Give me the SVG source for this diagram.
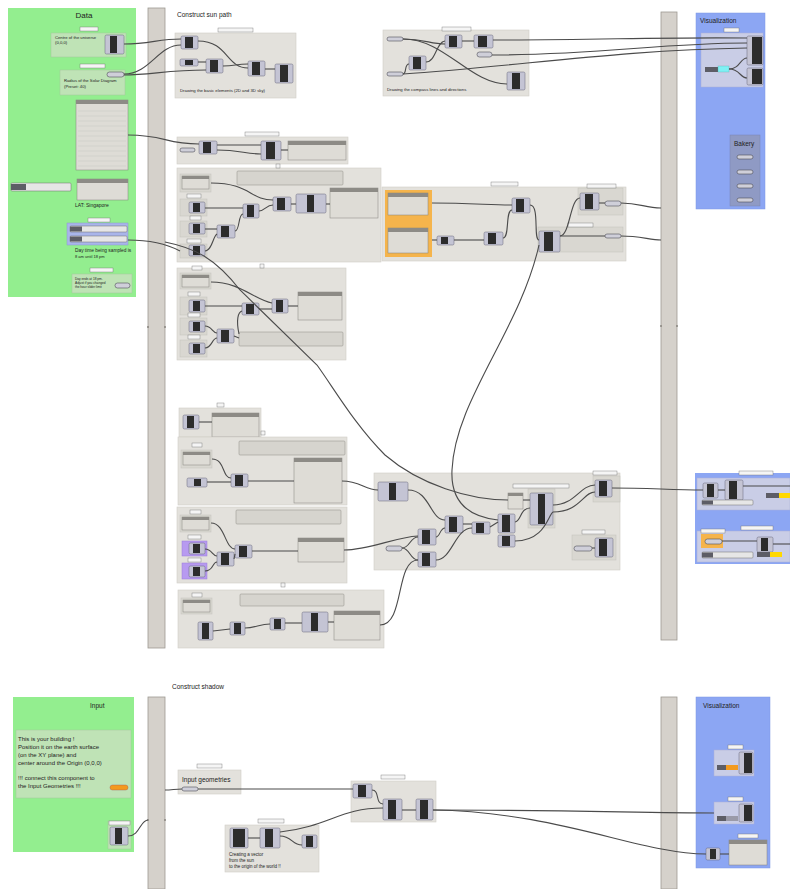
<svg xmlns="http://www.w3.org/2000/svg" width="790" height="889" viewBox="0 0 790 889">
<style>
.t{font-family:"Liberation Sans",Arial,sans-serif;fill:#222}
.grp{fill:#e3e1dc;stroke:#cfcdc7;stroke-width:0.6}
.sub{fill:#d9d7d1;stroke:#c3c1bb;stroke-width:0.5}
.gsub{fill:#bfe3b6;stroke:#a3c69b;stroke-width:0.5}
.bar{fill:#d5d1cb;stroke:#9d9992;stroke-width:0.8}
.cmp{fill:#c4c4d4;stroke:#66667a;stroke-width:0.5}
.core{fill:#2c2c2c}
.pill{fill:#cfcfd9;stroke:#4e4e58;stroke-width:0.6}
.tag{fill:#f5f5f5;stroke:#707070;stroke-width:0.4}
.pnl{fill:#dedcd6;stroke:#85837e;stroke-width:0.5}
.ph{fill:#8d8b86}
.expr{fill:#d6d4ce;stroke:#8e8c87;stroke-width:0.5}
.sl{fill:#e6e6e6;stroke:#6c6c6c;stroke-width:0.5}
.sll{fill:#5d5d66}
.wire{fill:none;stroke:#4b4b4b;stroke-width:1.1}
</style>

<!-- ============ Data panel ============ -->
<g id="data">
  <rect x="8" y="8" width="128" height="289" fill="#93ee8f"/>
  <text class="t" x="84" y="18" font-size="8" text-anchor="middle">Data</text>
  <rect class="tag" x="80" y="27" width="18" height="4"/>
  <rect class="gsub" x="51" y="33" width="75" height="24"/>
  <text class="t" x="55" y="39" font-size="4.2">Centre of the universe</text>
  <text class="t" x="55" y="44" font-size="4.2">(0,0,0)</text>
  <rect class="cmp" x="105" y="35" width="19" height="19" rx="1.5"/>
  <rect class="core" x="110" y="36" width="7" height="17"/>
  <rect class="tag" x="80" y="64" width="25" height="4"/>
  <rect class="gsub" x="60" y="70" width="65" height="25"/>
  <rect class="pill" x="107" y="72" width="17" height="5" rx="2.5"/>
  <text class="t" x="64" y="82" font-size="4.2">Radius of the Solar Diagram</text>
  <text class="t" x="64" y="88" font-size="4.2">(Preset: 40)</text>
  <rect class="pnl" x="76" y="100" width="52" height="70"/>
  <rect class="ph" x="76" y="100" width="52" height="4"/>
  <g stroke="#c2c0bb" stroke-width="0.4">
    <line x1="78" y1="111" x2="126" y2="111"/><line x1="78" y1="116" x2="126" y2="116"/>
    <line x1="78" y1="121" x2="126" y2="121"/><line x1="78" y1="126" x2="126" y2="126"/>
    <line x1="78" y1="131" x2="126" y2="131"/><line x1="78" y1="136" x2="126" y2="136"/>
    <line x1="78" y1="141" x2="126" y2="141"/><line x1="78" y1="146" x2="126" y2="146"/>
    <line x1="78" y1="151" x2="126" y2="151"/><line x1="78" y1="156" x2="126" y2="156"/>
    <line x1="78" y1="161" x2="126" y2="161"/><line x1="78" y1="166" x2="126" y2="166"/>
  </g>
  <rect class="sl" x="11" y="183" width="60" height="8" rx="1"/>
  <rect class="sll" x="11" y="184" width="15" height="6"/>
  <rect class="pnl" x="77" y="179" width="51" height="21"/>
  <rect class="ph" x="77" y="179" width="51" height="4"/>
  <text class="t" x="75" y="207" font-size="5">LAT: Singapore</text>
  <rect class="tag" x="88" y="218" width="22" height="4"/>
  <rect x="67" y="223" width="61" height="22" fill="#a9b5ea" stroke="#8b97d0" stroke-width="0.5"/>
  <rect class="sl" x="70" y="226" width="57" height="6" rx="1"/>
  <rect class="sll" x="70" y="226.5" width="12" height="5"/>
  <rect class="sl" x="70" y="236" width="57" height="6" rx="1"/>
  <rect class="sll" x="70" y="236.5" width="12" height="5"/>
  <text class="t" x="75" y="252" font-size="4.8">Day time being sampled is</text>
  <text class="t" x="75" y="258" font-size="4">8 am until 18 pm</text>
  <rect class="tag" x="90" y="268" width="23" height="4"/>
  <rect class="gsub" x="72" y="274" width="60" height="19"/>
  <text class="t" x="75" y="280" font-size="3.2">Day ends at 18 pm.</text>
  <text class="t" x="75" y="284" font-size="3.2">Adjust if you changed</text>
  <text class="t" x="75" y="288" font-size="3.2">the hour slider limit</text>
  <rect class="pill" x="115" y="283" width="15" height="5" rx="2.5"/>
</g>

<!-- ============ relay bars ============ -->
<g id="bars">
  <rect class="bar" x="148" y="8" width="17" height="640"/>
  <rect class="bar" x="661" y="12" width="16" height="628"/>
  <rect class="bar" x="148" y="697" width="17" height="192"/>
  <rect class="bar" x="661" y="697" width="16" height="192"/>
  <g fill="#8a8680">
    <circle cx="148" cy="327" r="1"/><circle cx="165" cy="327" r="1"/>
    <circle cx="661" cy="326" r="1"/><circle cx="677" cy="326" r="1"/>
    <circle cx="148" cy="820" r="1"/><circle cx="165" cy="820" r="1"/>
  </g>
</g>

<text class="t" x="177" y="17" font-size="6.5">Construct sun path</text>
<text class="t" x="172" y="689" font-size="6.5">Construct  shadow</text>

<!-- ============ basic elements ============ -->
<g id="basic-elements">
  <rect class="grp" x="175" y="33" width="121" height="65"/>
  <rect class="tag" x="218" y="28" width="35" height="4"/>
  <rect class="cmp" x="181" y="36" width="17" height="13" rx="1.5"/><rect class="core" x="185" y="37" width="8" height="11"/>
  <rect class="cmp" x="180" y="59" width="18" height="7" rx="1.5"/><rect class="core" x="185" y="60" width="8" height="5"/>
  <rect class="cmp" x="206" y="59" width="17" height="14" rx="1.5"/><rect class="core" x="210" y="60" width="8" height="12"/>
  <rect class="cmp" x="248" y="61" width="17" height="15" rx="1.5"/><rect class="core" x="252" y="62" width="8" height="13"/>
  <rect class="cmp" x="275" y="64" width="18" height="19" rx="1.5"/><rect class="core" x="280" y="65" width="8" height="17"/>
  <text class="t" x="180" y="92" font-size="4.3">Drawing the basic elements (2D and 3D sky)</text>
</g>

<!-- ============ compass ============ -->
<g id="compass">
  <rect class="grp" x="383" y="30" width="146" height="66"/>
  <rect class="tag" x="442" y="27" width="29" height="4"/>
  <rect class="pill" x="387" y="37" width="16" height="4" rx="2"/>
  <rect class="pill" x="387" y="72" width="16" height="4" rx="2"/>
  <rect class="cmp" x="445" y="35" width="17" height="13" rx="1.5"/><rect class="core" x="449" y="36" width="8" height="11"/>
  <rect class="cmp" x="474" y="35" width="19" height="13" rx="1.5"/><rect class="core" x="478" y="36" width="9" height="11"/>
  <rect class="pill" x="477" y="52" width="15" height="5" rx="2.5"/>
  <rect class="cmp" x="409" y="56" width="17" height="14" rx="1.5"/><rect class="core" x="413" y="57" width="8" height="12"/>
  <rect class="cmp" x="507" y="72" width="18" height="18" rx="1.5"/><rect class="core" x="512" y="73" width="8" height="16"/>
  <text class="t" x="387" y="91" font-size="4.3">Drawing the compass lines and directions</text>
</g>

<!-- ============ visualization (sun path) ============ -->
<g id="visualization-top">
  <rect x="696" y="13" width="69" height="196" fill="#8ca6f3" stroke="#7d97e4" stroke-width="0.5"/>
  <text class="t" x="700" y="23" font-size="6.5">Visualization</text>
  <rect class="tag" x="724" y="28" width="15" height="4"/>
  <rect x="701" y="33" width="62" height="54" fill="#c9cde6" stroke="#aab0d6" stroke-width="0.5"/>
  <rect class="cmp" x="747" y="36" width="16" height="29" rx="1.5"/><rect class="core" x="752" y="37" width="10" height="27"/>
  <rect class="cmp" x="747" y="68" width="16" height="17" rx="1.5"/><rect class="core" x="752" y="69" width="10" height="15"/>
  <rect class="sll" x="705" y="67" width="13" height="5"/>
  <rect x="718" y="66" width="11" height="6" fill="#7ff0f4" stroke="#5aa" stroke-width="0.3"/>
</g>
<g id="bakery">
  <rect x="730" y="135" width="30" height="71" fill="#8f9ac4" stroke="#7a85b2" stroke-width="0.5"/>
  <text class="t" x="734" y="146" font-size="6.5">Bakery</text>
  <rect class="pill" x="737" y="155" width="16" height="4" rx="2"/>
  <rect class="pill" x="737" y="170" width="16" height="4" rx="2"/>
  <rect class="pill" x="737" y="184" width="16" height="4" rx="2"/>
  <rect class="pill" x="737" y="198" width="16" height="4" rx="2"/>
</g>

<!-- ============ month by index ============ -->
<g id="month-index">
  <rect class="grp" x="177" y="137" width="171" height="27"/>
  <rect class="tag" x="245" y="132" width="34" height="4"/>
  <rect class="pill" x="180" y="148" width="15" height="4" rx="2"/>
  <rect class="cmp" x="199" y="141" width="18" height="13" rx="1.5" fill="#b3b3cf"/><rect class="core" x="203" y="142" width="8" height="11"/>
  <rect class="cmp" x="261" y="141" width="20" height="19" rx="1.5"/><rect class="core" x="266" y="142" width="9" height="17"/>
  <rect class="pnl" x="288" y="141" width="58" height="19"/><rect class="ph" x="288" y="141" width="58" height="4"/>
</g>

<!-- ============ sun position (altitude) ============ -->
<g id="sun-altitude">
  <rect class="grp" x="177" y="168" width="204" height="94"/>
  <rect class="tag" x="276" y="164" width="4" height="4"/>
  <rect class="sub" x="180" y="174" width="31" height="18"/><rect class="pnl" x="182" y="176" width="27" height="13"/><rect class="ph" x="182" y="176" width="27" height="3"/>
  <rect class="expr" x="237" y="171" width="106" height="14" rx="1"/>
  <rect class="tag" x="187" y="194" width="14" height="4"/>
  <rect class="sub" x="180" y="199" width="27" height="17"/>
  <rect class="cmp" x="189" y="202" width="16" height="11" rx="1.5"/><rect class="core" x="193" y="203" width="7" height="9"/>
  <rect class="tag" x="190" y="216" width="11" height="4"/>
  <rect class="sub" x="180" y="221" width="27" height="16"/>
  <rect class="cmp" x="189" y="223" width="16" height="11" rx="1.5"/><rect class="core" x="193" y="224" width="7" height="9"/>
  <rect class="tag" x="187" y="239" width="14" height="4"/>
  <rect class="sub" x="180" y="244" width="27" height="14"/>
  <rect class="cmp" x="189" y="245" width="16" height="11" rx="1.5"/><rect class="core" x="193" y="246" width="7" height="9"/>
  <rect class="cmp" x="243" y="204" width="16" height="14" rx="1.5"/><rect class="core" x="247" y="205" width="7" height="12"/>
  <rect class="cmp" x="217" y="225" width="18" height="13" rx="1.5"/><rect class="core" x="221" y="226" width="8" height="11"/>
  <rect class="cmp" x="273" y="197" width="18" height="14" rx="1.5"/><rect class="core" x="277" y="198" width="8" height="12"/>
  <rect class="cmp" x="296" y="194" width="30" height="19" rx="1.5" fill="#d8d8de"/><rect class="core" x="307" y="195" width="7" height="17"/>
  <rect class="pnl" x="330" y="188" width="48" height="30"/><rect class="ph" x="330" y="188" width="48" height="4"/>
</g>

<!-- ============ sun position (azimuth) ============ -->
<g id="sun-azimuth">
  <rect class="grp" x="177" y="268" width="169" height="92"/>
  <rect class="tag" x="260" y="264" width="4" height="4"/>
  <rect class="tag" x="192" y="266" width="10" height="4"/>
  <rect class="sub" x="180" y="273" width="31" height="16"/><rect class="pnl" x="182" y="275" width="27" height="12"/><rect class="ph" x="182" y="275" width="27" height="3"/>
  <rect class="tag" x="188" y="292" width="12" height="4"/>
  <rect class="sub" x="180" y="297" width="27" height="18"/>
  <rect class="cmp" x="189" y="300" width="16" height="12" rx="1.5"/><rect class="core" x="193" y="301" width="7" height="10"/>
  <rect class="tag" x="188" y="313" width="12" height="4"/>
  <rect class="sub" x="180" y="318" width="27" height="17"/>
  <rect class="cmp" x="189" y="321" width="16" height="11" rx="1.5"/><rect class="core" x="193" y="322" width="7" height="9"/>
  <rect class="tag" x="188" y="335" width="12" height="4"/>
  <rect class="sub" x="180" y="340" width="27" height="17"/>
  <rect class="cmp" x="189" y="343" width="16" height="11" rx="1.5"/><rect class="core" x="193" y="344" width="7" height="9"/>
  <rect class="cmp" x="242" y="303" width="17" height="12" rx="1.5"/><rect class="core" x="246" y="304" width="8" height="10"/>
  <rect class="cmp" x="272" y="299" width="16" height="14" rx="1.5"/><rect class="core" x="276" y="300" width="7" height="12"/>
  <rect class="cmp" x="217" y="329" width="17" height="14" rx="1.5"/><rect class="core" x="221" y="330" width="8" height="12"/>
  <rect class="pnl" x="298" y="292" width="44" height="28"/><rect class="ph" x="298" y="292" width="44" height="4"/>
  <rect class="expr" x="239" y="332" width="104" height="14" rx="1"/>
</g>

<!-- ============ orange: sun vectors ============ -->
<g id="sun-vectors">
  <rect class="grp" x="382" y="187" width="244" height="74"/>
  <rect class="tag" x="491" y="182" width="27" height="4"/>
  <rect x="385" y="190" width="47" height="67" fill="#f5b44c"/>
  <rect class="pnl" x="388" y="193" width="40" height="22"/><rect class="ph" x="388" y="193" width="40" height="4"/>
  <rect class="pnl" x="388" y="228" width="40" height="25"/><rect class="ph" x="388" y="228" width="40" height="4"/>
  <rect class="cmp" x="437" y="236" width="17" height="9" rx="1.5"/><rect class="core" x="441" y="237" width="7" height="7"/>
  <rect class="cmp" x="484" y="232" width="19" height="13" rx="1.5"/><rect class="core" x="488" y="233" width="8" height="11"/>
  <rect class="cmp" x="512" y="198" width="18" height="15" rx="1.5"/><rect class="core" x="516" y="199" width="8" height="13"/>
  <rect class="sub" x="578" y="188" width="45" height="27"/>
  <rect class="tag" x="587" y="184" width="29" height="4"/>
  <rect class="cmp" x="580" y="193" width="19" height="17" rx="1.5"/><rect class="core" x="585" y="194" width="8" height="15"/>
  <rect class="pill" x="605" y="201" width="16" height="5" rx="2.5"/>
  <rect class="sub" x="538" y="227" width="85" height="25"/>
  <rect class="tag" x="568" y="223" width="25" height="4"/>
  <rect class="cmp" x="539" y="231" width="21" height="21" rx="1.5"/><rect class="core" x="544" y="232" width="9" height="19"/>
  <rect class="pill" x="605" y="234" width="16" height="4" rx="2"/>
</g>

<!-- ============ lower sun-path groups ============ -->
<g id="day-list">
  <rect class="grp" x="179" y="408" width="82" height="29"/>
  <rect class="tag" x="217" y="403" width="7" height="4"/>
  <rect class="cmp" x="183" y="415" width="16" height="14" rx="1.5"/><rect class="core" x="187" y="416" width="7" height="12"/>
  <rect class="pnl" x="212" y="413" width="47" height="24"/><rect class="ph" x="212" y="413" width="47" height="4"/>
  <rect class="tag" x="261" y="431" width="4" height="4"/>
</g>
<g id="sun-x">
  <rect class="grp" x="178" y="437" width="169" height="68"/>
  <rect class="tag" x="192" y="443" width="10" height="4"/>
  <rect class="sub" x="181" y="450" width="31" height="18"/><rect class="pnl" x="183" y="452" width="27" height="13"/><rect class="ph" x="183" y="452" width="27" height="3"/>
  <rect class="expr" x="239" y="441" width="106" height="14" rx="1"/>
  <rect class="cmp" x="187" y="478" width="20" height="9" rx="1.5"/><rect class="core" x="194" y="479" width="7" height="7"/>
  <rect class="cmp" x="231" y="474" width="17" height="13" rx="1.5"/><rect class="core" x="235" y="475" width="8" height="11"/>
  <rect class="pnl" x="294" y="458" width="48" height="45"/><rect class="ph" x="294" y="458" width="48" height="4"/>
</g>
<g id="sun-y">
  <rect class="grp" x="177" y="507" width="170" height="76"/>
  <rect class="tag" x="190" y="510" width="11" height="4"/>
  <rect class="sub" x="180" y="515" width="31" height="17"/><rect class="pnl" x="182" y="517" width="27" height="13"/><rect class="ph" x="182" y="517" width="27" height="3"/>
  <rect class="expr" x="236" y="510" width="105" height="14" rx="1"/>
  <rect class="tag" x="188" y="535" width="13" height="4"/>
  <rect x="182" y="541" width="25" height="15" fill="#b79af0" stroke="#9a7ed8" stroke-width="0.5"/>
  <rect class="cmp" x="189" y="543" width="16" height="11" rx="1.5"/><rect class="core" x="193" y="544" width="7" height="9"/>
  <rect class="tag" x="188" y="558" width="13" height="4"/>
  <rect x="182" y="563" width="25" height="16" fill="#b79af0" stroke="#9a7ed8" stroke-width="0.5"/>
  <rect class="cmp" x="189" y="566" width="16" height="11" rx="1.5"/><rect class="core" x="193" y="567" width="7" height="9"/>
  <rect class="cmp" x="217" y="552" width="17" height="14" rx="1.5"/><rect class="core" x="221" y="553" width="8" height="12"/>
  <rect class="cmp" x="235" y="545" width="17" height="13" rx="1.5"/><rect class="core" x="239" y="546" width="8" height="11"/>
  <rect class="pnl" x="298" y="538" width="46" height="24"/><rect class="ph" x="298" y="538" width="46" height="4"/>
  <rect class="tag" x="281" y="583" width="4" height="4"/>
</g>
<g id="sun-z">
  <rect class="grp" x="178" y="590" width="206" height="58"/>
  <rect class="tag" x="192" y="593" width="10" height="4"/>
  <rect class="sub" x="181" y="598" width="31" height="16"/><rect class="pnl" x="183" y="600" width="27" height="12"/><rect class="ph" x="183" y="600" width="27" height="3"/>
  <rect class="expr" x="240" y="594" width="104" height="12" rx="1"/>
  <rect class="cmp" x="198" y="622" width="15" height="18" rx="1.5"/><rect class="core" x="202" y="623" width="7" height="16"/>
  <rect class="cmp" x="230" y="622" width="15" height="13" rx="1.5"/><rect class="core" x="234" y="623" width="7" height="11"/>
  <rect class="cmp" x="270" y="618" width="15" height="12" rx="1.5"/><rect class="core" x="274" y="619" width="7" height="10"/>
  <rect class="cmp" x="302" y="612" width="26" height="20" rx="1.5" fill="#d8d8de"/><rect class="core" x="311" y="613" width="7" height="18"/>
  <rect class="pnl" x="334" y="611" width="46" height="29"/><rect class="ph" x="334" y="611" width="46" height="4"/>
</g>

<!-- ============ sun points ============ -->
<g id="sun-points">
  <rect class="grp" x="374" y="473" width="246" height="97"/>
  <rect class="cmp" x="378" y="482" width="30" height="19" rx="1.5" fill="#d8d8de"/><rect class="core" x="389" y="483" width="7" height="17"/>
  <rect class="cmp" x="445" y="516" width="18" height="17" rx="1.5"/><rect class="core" x="449" y="517" width="8" height="15"/>
  <rect class="cmp" x="472" y="522" width="18" height="12" rx="1.5"/><rect class="core" x="476" y="523" width="8" height="10"/>
  <rect class="cmp" x="498" y="514" width="17" height="19" rx="1.5"/><rect class="core" x="502" y="515" width="8" height="17"/>
  <rect class="cmp" x="498" y="535" width="17" height="12" rx="1.5"/><rect class="core" x="502" y="536" width="8" height="10"/>
  <rect class="cmp" x="418" y="529" width="18" height="16" rx="1.5"/><rect class="core" x="422" y="530" width="8" height="14"/>
  <rect class="cmp" x="418" y="552" width="18" height="15" rx="1.5"/><rect class="core" x="422" y="553" width="8" height="13"/>
  <rect class="pill" x="386" y="546" width="16" height="5" rx="2.5"/>
  <rect class="pnl" x="508" y="493" width="15" height="16"/><rect class="ph" x="508" y="493" width="15" height="3"/>
  <rect class="sub" x="528" y="489" width="27" height="39"/>
  <rect class="tag" x="513" y="484" width="56" height="4"/>
  <rect class="cmp" x="530" y="493" width="23" height="32" rx="1.5" fill="#d0d0dc"/><rect class="core" x="538" y="494" width="7" height="30"/>
  <rect class="sub" x="593" y="476" width="27" height="26"/>
  <rect class="tag" x="593" y="471" width="24" height="4"/>
  <rect class="cmp" x="595" y="480" width="17" height="17" rx="1.5"/><rect class="core" x="599" y="481" width="8" height="15"/>
  <rect class="sub" x="572" y="535" width="44" height="25"/>
  <rect class="tag" x="582" y="530" width="23" height="4"/>
  <rect class="pill" x="574" y="546" width="18" height="5" rx="2.5"/>
  <rect class="cmp" x="595" y="538" width="18" height="19" rx="1.5"/><rect class="core" x="599" y="539" width="8" height="17"/>
</g>

<!-- ============ visualization (sun positions) ============ -->
<g id="visualization-sun">
  <rect x="695" y="473" width="95" height="91" fill="#8ca6f3"/>
  <rect class="tag" x="739" y="471" width="34" height="4"/>
  <rect x="697" y="478" width="93" height="32" fill="#c9cde6" stroke="#aab0d6" stroke-width="0.5"/>
  <rect class="cmp" x="703" y="483" width="15" height="15" rx="1.5" fill="#a9a9b4"/><rect class="core" x="707" y="484" width="7" height="13"/>
  <rect class="cmp" x="725" y="480" width="18" height="20" rx="1.5"/><rect class="core" x="729" y="481" width="8" height="18"/>
  <rect class="sl" x="702" y="500" width="51" height="5" rx="1"/><rect class="sll" x="702" y="500.5" width="11" height="4"/>
  <rect class="sll" x="766" y="493" width="13" height="5"/><rect x="779" y="493" width="11" height="5" fill="#ffd800"/>
  <rect class="tag" x="741" y="526" width="32" height="4"/>
  <rect x="697" y="531" width="93" height="31" fill="#c9cde6" stroke="#aab0d6" stroke-width="0.5"/>
  <rect class="tag" x="701" y="529" width="24" height="4"/>
  <rect x="701" y="534" width="22" height="14" fill="#f5b44c"/>
  <rect class="pill" x="705" y="539" width="17" height="5" rx="2.5"/>
  <rect class="cmp" x="757" y="537" width="16" height="15" rx="1.5"/><rect class="core" x="761" y="538" width="7" height="13"/>
  <rect class="sl" x="702" y="552" width="51" height="6" rx="1"/><rect class="sll" x="702" y="552.5" width="11" height="5"/>
  <rect class="sll" x="757" y="552" width="13" height="5"/><rect x="770" y="552" width="12" height="5" fill="#ffd800"/>
</g>

<!-- ============ Input panel ============ -->
<g id="input">
  <rect x="13" y="697" width="121" height="155" fill="#93ee8f"/>
  <text class="t" x="90" y="708" font-size="6.5">Input</text>
  <rect class="gsub" x="16" y="730" width="115" height="68"/>
  <text class="t" x="18" y="741" font-size="6">This is your building !</text>
  <text class="t" x="18" y="749" font-size="6">Position it on the earth surface</text>
  <text class="t" x="18" y="757" font-size="6">(on the XY plane) and</text>
  <text class="t" x="18" y="765" font-size="6">center around the Origin (0,0,0)</text>
  <text class="t" x="18" y="780" font-size="6">!!! connect this component to</text>
  <text class="t" x="18" y="788" font-size="6">the Input Geometries !!!</text>
  <rect x="110" y="785" width="18" height="5" rx="2.5" fill="#f39a1e" stroke="#a55" stroke-width="0.4"/>
  <rect class="gsub" x="108" y="821" width="23" height="28"/>
  <rect class="tag" x="109" y="821" width="21" height="4"/>
  <rect class="cmp" x="110" y="827" width="18" height="18" rx="1.5"/><rect class="core" x="115" y="828" width="7" height="16"/>
</g>

<!-- ============ shadow construction ============ -->
<g id="input-geometries">
  <rect class="grp" x="178" y="770" width="63" height="24"/>
  <rect class="tag" x="197" y="764" width="25" height="4"/>
  <text class="t" x="182" y="782" font-size="6.5">Input geometries</text>
  <rect class="pill" x="182" y="787" width="16" height="4" rx="2"/>
</g>
<g id="shadow-casting">
  <rect class="grp" x="351" y="781" width="85" height="41"/>
  <rect class="tag" x="381" y="775" width="24" height="4"/>
  <rect class="cmp" x="353" y="784" width="19" height="14" rx="1.5"/><rect class="core" x="358" y="785" width="8" height="12"/>
  <rect class="cmp" x="383" y="799" width="19" height="21" rx="1.5"/><rect class="core" x="388" y="800" width="8" height="19"/>
  <rect class="cmp" x="416" y="799" width="17" height="21" rx="1.5"/><rect class="core" x="420" y="800" width="8" height="19"/>
</g>
<g id="sunlight-direction">
  <rect class="grp" x="225" y="825" width="94" height="47"/>
  <rect class="tag" x="258" y="819" width="26" height="4"/>
  <rect class="cmp" x="230" y="828" width="18" height="20" rx="1.5"/><rect class="core" x="233" y="829" width="12" height="18"/>
  <rect class="cmp" x="260" y="828" width="20" height="20" rx="1.5"/><rect class="core" x="265" y="829" width="8" height="18"/>
  <rect class="cmp" x="302" y="835" width="15" height="13" rx="1.5"/><rect class="core" x="306" y="836" width="7" height="11"/>
  <text class="t" x="229" y="856" font-size="4.5">Creating a vector</text>
  <text class="t" x="229" y="862" font-size="4.5">from the sun</text>
  <text class="t" x="229" y="868" font-size="4.5">to the origin of the world !!</text>
</g>

<!-- ============ visualization (shadow) ============ -->
<g id="visualization-shadow">
  <rect x="696" y="697" width="74" height="171" fill="#8ca6f3" stroke="#7d97e4" stroke-width="0.5"/>
  <text class="t" x="703" y="708" font-size="6.5">Visualization</text>
  <rect class="tag" x="728" y="745" width="15" height="4"/>
  <rect x="714" y="750" width="40" height="26" fill="#c9cde6" stroke="#aab0d6" stroke-width="0.5"/>
  <rect class="cmp" x="739" y="752" width="14" height="22" rx="1.5"/><rect class="core" x="744" y="753" width="8" height="20"/>
  <rect class="sll" x="717" y="765" width="9" height="5"/><rect x="726" y="765" width="12" height="5" fill="#f39a1e"/>
  <rect class="tag" x="728" y="797" width="15" height="4"/>
  <rect x="714" y="802" width="40" height="22" fill="#c9cde6" stroke="#aab0d6" stroke-width="0.5"/>
  <rect class="cmp" x="739" y="804" width="14" height="18" rx="1.5"/><rect class="core" x="744" y="805" width="8" height="16"/>
  <rect class="sll" x="717" y="816" width="9" height="5"/><rect x="726" y="816" width="12" height="5" fill="#9a9aa8"/>
  <rect class="tag" x="738" y="834" width="20" height="4"/>
  <rect class="cmp" x="706" y="848" width="14" height="12" rx="1.5"/><rect class="core" x="710" y="849" width="6" height="10"/>
  <rect class="pnl" x="729" y="840" width="38" height="25"/><rect class="ph" x="729" y="840" width="38" height="4"/>
</g>

<!-- ============ wires ============ -->
<g id="wires" class="wire">
  <path d="M124,44 C150,44 158,39 181,39"/>
  <path d="M124,74 C150,74 158,45 181,45"/>
  <path d="M124,75 C150,75 168,70 206,70"/>
  <path d="M198,41 C228,41 226,68 248,68"/>
  <path d="M198,62 L206,62"/>
  <path d="M223,66 C235,66 236,64 248,64"/>
  <path d="M265,69 L275,69"/>
  <path d="M403,39 C425,39 430,44 445,44"/>
  <path d="M403,39 C445,39 470,84 507,84"/>
  <path d="M403,74 C407,74 404,64 409,64"/>
  <path d="M426,62 C436,62 436,42 445,41"/>
  <path d="M462,41 L474,41"/>
  <path d="M493,40 C600,40 660,37 747,38"/>
  <path d="M492,55 C600,55 660,43 747,43"/>
  <path d="M403,74 C520,66 620,50 747,48"/>
  <path d="M729,69 C740,69 740,58 747,58"/>
  <path d="M729,69 C740,69 740,78 747,78"/>
  <path d="M128,135 C165,135 165,144 199,144"/>
  <path d="M217,145 L261,145"/>
  <path d="M217,150 C240,150 245,154 261,154"/>
  <path d="M281,150 L288,150"/>
  <path d="M211,183 C250,183 250,200 273,200"/>
  <path d="M205,208 L243,208"/>
  <path d="M205,229 L217,229"/>
  <path d="M205,251 C212,251 213,236 217,234"/>
  <path d="M235,231 C240,231 238,214 243,214"/>
  <path d="M259,211 C265,211 266,205 273,205"/>
  <path d="M291,204 L296,204"/>
  <path d="M326,204 L330,204"/>
  <path d="M128,240 C150,240 165,243 180,251"/>
  <path d="M165,242 C195,248 215,258 240,290 L317,365 C335,390 355,425 385,455 C420,485 470,500 508,500"/>
  <path d="M211,282 C240,282 255,300 272,303"/>
  <path d="M205,306 L242,306"/>
  <path d="M205,326 C212,326 212,333 217,333"/>
  <path d="M205,348 C212,348 212,338 217,338"/>
  <path d="M234,336 L239,338"/>
  <path d="M239,334 C236,320 238,312 242,311"/>
  <path d="M259,309 L272,309"/>
  <path d="M288,306 L298,306"/>
  <path d="M432,203 C470,203 490,205 512,205"/>
  <path d="M432,240 L437,240"/>
  <path d="M454,240 L484,240"/>
  <path d="M503,238 C510,238 505,210 512,210"/>
  <path d="M530,205 C540,205 533,240 539,240"/>
  <path d="M560,236 C570,236 570,198 580,198"/>
  <path d="M599,203 L605,203"/>
  <path d="M560,236 L605,236"/>
  <path d="M621,203 C640,203 645,208 661,208"/>
  <path d="M621,236 C640,236 650,240 661,240"/>
  <path d="M539,245 C520,330 455,400 452,470 C450,510 480,518 498,520"/>
  <path d="M199,422 L212,422"/>
  <path d="M212,459 C225,459 222,478 231,478"/>
  <path d="M207,482 L231,482"/>
  <path d="M248,481 L294,481"/>
  <path d="M342,481 C360,481 365,490 378,490"/>
  <path d="M211,523 C225,523 225,549 235,549"/>
  <path d="M205,549 C212,549 212,556 217,556"/>
  <path d="M205,571 C214,571 212,562 217,562"/>
  <path d="M234,559 L235,554"/>
  <path d="M252,551 L298,551"/>
  <path d="M344,550 C370,550 395,537 418,536"/>
  <path d="M213,631 L230,629"/>
  <path d="M245,628 C255,628 260,624 270,624"/>
  <path d="M285,623 L302,623"/>
  <path d="M328,622 L334,622"/>
  <path d="M380,625 C405,625 395,560 418,560"/>
  <path d="M408,490 C430,490 430,520 445,520"/>
  <path d="M402,548 C410,548 410,537 418,537"/>
  <path d="M402,548 C410,548 410,560 418,560"/>
  <path d="M436,537 C440,537 440,528 445,528"/>
  <path d="M436,560 C452,560 455,528 472,528"/>
  <path d="M463,524 L472,524"/>
  <path d="M490,527 L498,522"/>
  <path d="M515,522 C521,522 520,508 530,508"/>
  <path d="M515,541 C545,541 548,515 553,512"/>
  <path d="M523,500 L530,500"/>
  <path d="M553,505 C575,505 580,485 595,485"/>
  <path d="M553,512 C580,512 583,492 595,492"/>
  <path d="M592,548 L595,548"/>
  <path d="M612,488 C650,488 670,490 703,490"/>
  <path d="M718,490 L725,490"/>
  <path d="M743,486 L790,486"/>
  <path d="M722,541 L757,541"/>
  <path d="M773,544 L790,544"/>
  <path d="M128,836 C140,836 140,820 148,820"/>
  <path d="M165,790 C172,790 175,789 182,789"/>
  <path d="M198,789 L353,789"/>
  <path d="M372,790 C380,790 375,804 383,804"/>
  <path d="M248,838 L260,838"/>
  <path d="M280,836 C292,836 292,845 302,845"/>
  <path d="M280,832 C330,826 340,808 383,808"/>
  <path d="M402,810 L416,810"/>
  <path d="M433,810 C560,810 650,813 714,813"/>
  <path d="M433,810 C560,812 640,854 706,854"/>
  <path d="M720,854 L729,854"/>
</g>
</svg>
